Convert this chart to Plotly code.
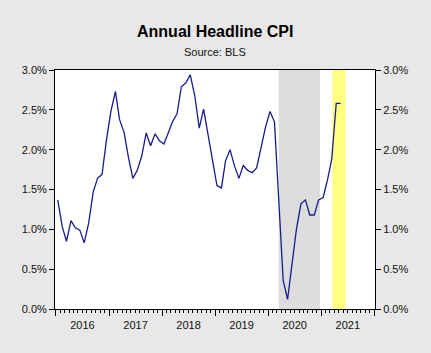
import plotly.graph_objects as go

# Monthly observations, Jan 2016 .. May 2021 (annual % change)
start_year = 2016
cpi_values = [
    1.37, 1.03, 0.85, 1.11, 1.02, 0.99, 0.83, 1.08, 1.47, 1.64, 1.69, 2.12,
    2.48, 2.73, 2.38, 2.22, 1.91, 1.64, 1.74, 1.92, 2.21, 2.05, 2.20, 2.11,
    2.07, 2.22, 2.35, 2.45, 2.79, 2.84, 2.94, 2.68, 2.27, 2.51, 2.19, 1.91,
    1.55, 1.52, 1.86, 2.00, 1.80, 1.64, 1.80, 1.74, 1.71, 1.77, 2.05, 2.28,
    2.48, 2.35, 1.38, 0.36, 0.12, 0.60, 1.00, 1.32, 1.37, 1.18, 1.18, 1.37,
    1.40, 1.63, 1.88, 2.58, 2.58,
]
dates = [f"{start_year + i // 12}-{i % 12 + 1:02d}-14" for i in range(len(cpi_values))]

gray_band = ("2020-03-14", "2020-12-23")
yellow_band = ("2021-03-18", "2021-06-18")

y_ticks = [0.0, 0.5, 1.0, 1.5, 2.0, 2.5, 3.0]
y_tick_text = [f"{v:.1f}%" for v in y_ticks]

FONT = "Liberation Sans, Arial, sans-serif"

fig = go.Figure()
fig.add_trace(go.Scatter(x=dates, y=cpi_values, mode="lines",
                         line=dict(color="#1a1a8c", width=1.3),
                         showlegend=False, hoverinfo="skip"))
fig.add_trace(go.Scatter(x=dates, y=cpi_values, mode="lines", yaxis="y2",
                         line=dict(color="rgba(0,0,0,0)", width=0),
                         showlegend=False, hoverinfo="skip"))

for (x0, x1), col in [(gray_band, "#dddddd"), (yellow_band, "#ffff80")]:
    fig.add_shape(type="rect", xref="x", yref="paper", x0=x0, x1=x1, y0=0, y1=1,
                  fillcolor=col, line=dict(width=0), layer="below")

axis_common = dict(showgrid=False, zeroline=False, ticks="outside", ticklen=5,
                   tickcolor="black", tickwidth=1,
                   tickfont=dict(family=FONT, size=11, color="#111111"))

fig.update_layout(
    width=431, height=353,
    margin=dict(l=55, r=56, t=70, b=44),
    paper_bgcolor="#e8e8e8", plot_bgcolor="white",
    font=dict(family=FONT, color="#111111"),
    xaxis=dict(type="date", range=["2015-12-26", "2022-01-06"],
               showgrid=False, zeroline=False,
               dtick="M12", tick0="2016-01-01", tickformat="%Y",
               ticklabelmode="period", ticks="outside", ticklen=6,
               tickcolor="black", tickwidth=1,
               minor=dict(dtick="M1", ticks="outside", ticklen=3,
                          tickcolor="black", tickwidth=1, showgrid=False),
               showline=True, mirror=True, linecolor="black", linewidth=1,
               tickfont=dict(family=FONT, size=11, color="#111111")),
    yaxis=dict(range=[0, 3], tickvals=y_ticks, ticktext=y_tick_text,
               showline=True, mirror=True, linecolor="black", linewidth=1,
               **axis_common),
    yaxis2=dict(range=[0, 3], tickvals=y_ticks, ticktext=y_tick_text,
                overlaying="y", side="right",
                showline=True, linecolor="black", linewidth=1,
                **axis_common),
    annotations=[
        dict(text="<b>Annual Headline CPI</b>", xref="paper", yref="paper",
             x=0.5, y=1.163, xanchor="center", yanchor="middle", showarrow=False,
             font=dict(family=FONT, size=16, color="black")),
        dict(text="Source: BLS", xref="paper", yref="paper",
             x=0.5, y=1.075, xanchor="center", yanchor="middle", showarrow=False,
             font=dict(family=FONT, size=11, color="#111111")),
    ],
)

fig.write_html("out.html")
